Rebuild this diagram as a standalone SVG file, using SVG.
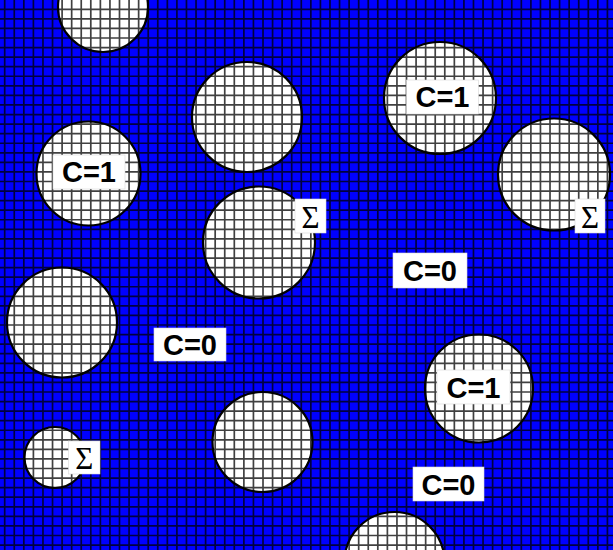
<svg xmlns="http://www.w3.org/2000/svg" width="613" height="550" viewBox="0 0 613 550">
<style>
.blob{fill:#fff;stroke:#000;stroke-width:2.2}
.grid{fill:none;stroke:#000;stroke-width:1.7;stroke-opacity:0.75}
.box{fill:#fff;stroke:#d8d8d8;stroke-width:0.6}
.c{font-family:"Liberation Sans",Arial,sans-serif;font-weight:bold;font-size:29px;fill:#000;text-anchor:middle}
.s{font-family:"Liberation Serif","Times New Roman",serif;font-size:31px;fill:#000;text-anchor:middle}
</style>
<rect id="background" x="0" y="0" width="613" height="550" fill="#0000ff"/>
<g id="circles">
<g id="circle1"><circle class="blob" cx="103" cy="7" r="45"/></g>
<g id="circle2"><circle class="blob" cx="247" cy="117" r="55"/></g>
<g id="circle3"><circle class="blob" cx="440" cy="98" r="56"/></g>
<g id="circle4"><circle class="blob" cx="554" cy="174.5" r="56"/></g>
<g id="circle5"><circle class="blob" cx="88.5" cy="173.5" r="52"/></g>
<g id="circle6"><circle class="blob" cx="259" cy="242.5" r="56"/></g>
<g id="circle7"><circle class="blob" cx="62" cy="322.5" r="55"/></g>
<g id="circle8"><circle class="blob" cx="479" cy="388.5" r="54"/></g>
<g id="circle9"><circle class="blob" cx="55" cy="457.5" r="30.5"/></g>
<g id="circle10"><circle class="blob" cx="262.5" cy="442" r="50"/></g>
<g id="circle11"><circle class="blob" cx="394.5" cy="562" r="50"/></g>
</g>
<path id="grid" class="grid" d="M4.7 0V550M14.27 0V550M23.83 0V550M33.4 0V550M42.97 0V550M52.54 0V550M62.1 0V550M71.67 0V550M81.24 0V550M90.8 0V550M100.37 0V550M109.94 0V550M119.5 0V550M129.07 0V550M138.64 0V550M148.21 0V550M157.77 0V550M167.34 0V550M176.91 0V550M186.47 0V550M196.04 0V550M205.61 0V550M215.17 0V550M224.74 0V550M234.31 0V550M243.88 0V550M253.44 0V550M263.01 0V550M272.58 0V550M282.14 0V550M291.71 0V550M301.28 0V550M310.84 0V550M320.41 0V550M329.98 0V550M339.55 0V550M349.11 0V550M358.68 0V550M368.25 0V550M377.81 0V550M387.38 0V550M396.95 0V550M406.51 0V550M416.08 0V550M425.65 0V550M435.22 0V550M444.78 0V550M454.35 0V550M463.92 0V550M473.48 0V550M483.05 0V550M492.62 0V550M502.18 0V550M511.75 0V550M521.32 0V550M530.89 0V550M540.45 0V550M550.02 0V550M559.59 0V550M569.15 0V550M578.72 0V550M588.29 0V550M597.85 0V550M607.42 0V550M0 9.3H613M0 18.87H613M0 28.43H613M0 38H613M0 47.57H613M0 57.14H613M0 66.7H613M0 76.27H613M0 85.84H613M0 95.4H613M0 104.97H613M0 114.54H613M0 124.1H613M0 133.67H613M0 143.24H613M0 152.81H613M0 162.37H613M0 171.94H613M0 181.51H613M0 191.07H613M0 200.64H613M0 210.21H613M0 219.77H613M0 229.34H613M0 238.91H613M0 248.48H613M0 258.04H613M0 267.61H613M0 277.18H613M0 286.74H613M0 296.31H613M0 305.88H613M0 315.44H613M0 325.01H613M0 334.58H613M0 344.15H613M0 353.71H613M0 363.28H613M0 372.85H613M0 382.41H613M0 391.98H613M0 401.55H613M0 411.11H613M0 420.68H613M0 430.25H613M0 439.82H613M0 449.38H613M0 458.95H613M0 468.52H613M0 478.08H613M0 487.65H613M0 497.22H613M0 506.78H613M0 516.35H613M0 525.92H613M0 535.49H613M0 545.05H613"/>
<g id="labels">
<g id="label-c1-top"><rect class="box" x="406.5" y="80" width="72" height="34"/><text class="c" x="442.5" y="107">C=1</text></g>
<g id="label-c1-left"><rect class="box" x="53" y="155" width="72" height="34"/><text class="c" x="89" y="182">C=1</text></g>
<g id="label-c0-mid"><rect class="box" x="393" y="253" width="74" height="35"/><text class="c" x="430" y="280.5">C=0</text></g>
<g id="label-c0-left"><rect class="box" x="154" y="328" width="72" height="33"/><text class="c" x="190" y="355">C=0</text></g>
<g id="label-c1-right"><rect class="box" x="437" y="370" width="73" height="34"/><text class="c" x="473.5" y="397.5">C=1</text></g>
<g id="label-c0-bottom"><rect class="box" x="413" y="467" width="71" height="34"/><text class="c" x="448.5" y="495">C=0</text></g>
<g id="sigma-mid"><rect class="box" x="295" y="199" width="31" height="34"/><text class="s" x="310.5" y="227.5">Σ</text></g>
<g id="sigma-right"><rect class="box" x="575" y="199" width="30" height="34"/><text class="s" x="590" y="227.5">Σ</text></g>
<g id="sigma-small"><rect class="box" x="68.5" y="441" width="31.5" height="33"/><text class="s" x="84.2" y="469">Σ</text></g>
</g>
</svg>
